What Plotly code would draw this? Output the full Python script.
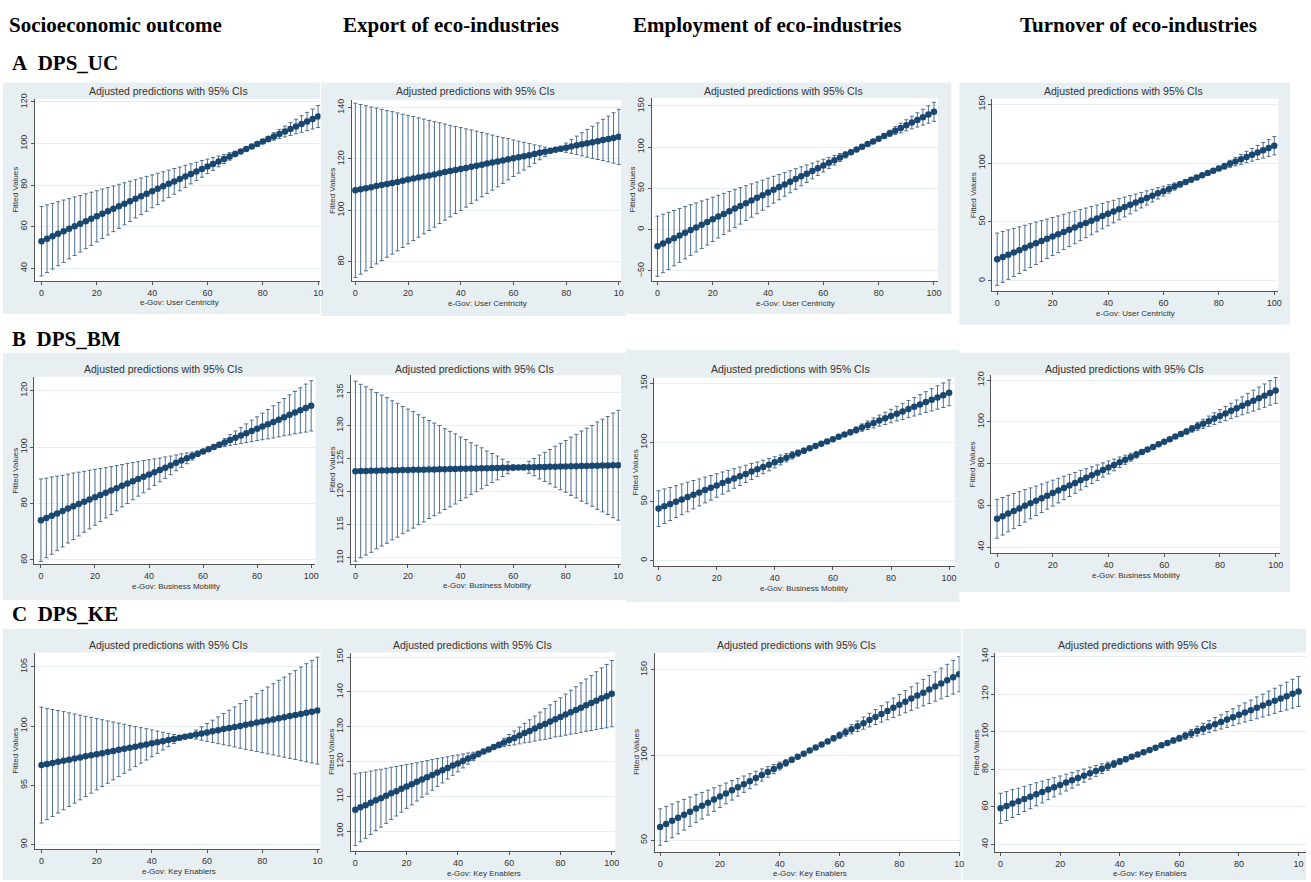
import plotly.graph_objects as go

W, H = 1311, 882

# ---------------- data ----------------
x_vals = list(range(0, 101, 2))
x_tick_vals = [0, 20, 40, 60, 80, 100]
x_tick_full = ["0", "20", "40", "60", "80", "100"]
x_tick_cut = ["0", "20", "40", "60", "80", "10"]

column_titles = ["Socioeconomic outcome", "Export of eco-industries",
                 "Employment of eco-industries", "Turnover of eco-industries"]
row_labels = ["A  DPS_UC", "B  DPS_BM", "C  DPS_KE"]
x_axis_titles = ["e-Gov: User Centricity", "e-Gov: Business Mobility", "e-Gov: Key Enablers"]
panel_title = "Adjusted predictions with 95% CIs"
y_axis_title = "Fitted Values"

pred_A1 = [53.0, 54.2, 55.4, 56.6, 57.8, 59.0, 60.2, 61.4, 62.6, 63.8, 65.0, 66.2, 67.4, 68.6, 69.8, 71.0, 72.2, 73.4, 74.6, 75.8, 77.0, 78.2, 79.4, 80.6, 81.8, 83.0, 84.2, 85.4, 86.6, 87.8, 89.0, 90.2, 91.4, 92.6, 93.8, 95.0, 96.2, 97.4, 98.6, 99.8, 101.0, 102.2, 103.4, 104.6, 105.8, 107.0, 108.2, 109.4, 110.6, 111.8, 113.0]
err_A1 = [16.7, 16.3, 15.8, 15.4, 15.0, 14.5, 14.1, 13.6, 13.2, 12.8, 12.3, 11.9, 11.4, 11.0, 10.6, 10.1, 9.7, 9.2, 8.8, 8.4, 7.9, 7.5, 7.0, 6.6, 6.2, 5.7, 5.3, 4.8, 4.4, 4.0, 3.5, 3.1, 2.6, 2.2, 1.8, 1.3, 0.9, 0.6, 0.6, 0.6, 0.9, 1.3, 1.8, 2.2, 2.6, 3.1, 3.5, 4.0, 4.4, 4.8, 5.3]

pred_A2 = [107.8, 108.2, 108.6, 109.0, 109.5, 109.9, 110.3, 110.7, 111.1, 111.5, 112.0, 112.4, 112.8, 113.2, 113.6, 114.0, 114.5, 114.9, 115.3, 115.7, 116.1, 116.5, 117.0, 117.4, 117.8, 118.2, 118.6, 119.0, 119.4, 119.9, 120.3, 120.7, 121.1, 121.5, 121.9, 122.4, 122.8, 123.2, 123.6, 124.0, 124.4, 124.9, 125.3, 125.7, 126.1, 126.5, 126.9, 127.4, 127.8, 128.2, 128.6]
err_A2 = [33.9, 33.0, 32.1, 31.2, 30.3, 29.4, 28.5, 27.7, 26.8, 25.9, 25.0, 24.1, 23.2, 22.3, 21.4, 20.5, 19.6, 18.7, 17.8, 16.9, 16.1, 15.2, 14.3, 13.4, 12.5, 11.6, 10.7, 9.8, 8.9, 8.0, 7.1, 6.2, 5.4, 4.5, 3.6, 2.7, 1.8, 0.9, 0.6, 0.9, 1.8, 2.7, 3.6, 4.5, 5.4, 6.2, 7.1, 8.0, 8.9, 9.8, 10.7]

pred_A3 = [-20.1, -16.8, -13.6, -10.3, -7.1, -3.8, -0.5, 2.7, 6.0, 9.2, 12.5, 15.8, 19.0, 22.3, 25.5, 28.8, 32.1, 35.3, 38.6, 41.8, 45.1, 48.4, 51.6, 54.9, 58.1, 61.4, 64.7, 67.9, 71.2, 74.4, 77.7, 81.0, 84.2, 87.5, 90.7, 94.0, 97.3, 100.5, 103.8, 107.0, 110.3, 113.6, 116.8, 120.1, 123.3, 126.6, 129.9, 133.1, 136.4, 139.6, 142.9]
err_A3 = [36.5, 35.5, 34.6, 33.6, 32.6, 31.7, 30.7, 29.8, 28.8, 27.8, 26.9, 25.9, 25.0, 24.0, 23.0, 22.1, 21.1, 20.2, 19.2, 18.2, 17.3, 16.3, 15.4, 14.4, 13.4, 12.5, 11.5, 10.6, 9.6, 8.6, 7.7, 6.7, 5.8, 4.8, 3.8, 2.9, 1.9, 1.0, 1.0, 1.0, 1.9, 2.9, 3.8, 4.8, 5.8, 6.7, 7.7, 8.6, 9.6, 10.6, 11.5]

pred_A4 = [18.3, 20.2, 22.2, 24.1, 26.0, 28.0, 29.9, 31.8, 33.7, 35.7, 37.6, 39.5, 41.5, 43.4, 45.3, 47.3, 49.2, 51.1, 53.0, 55.0, 56.9, 58.8, 60.8, 62.7, 64.6, 66.6, 68.5, 70.4, 72.3, 74.3, 76.2, 78.1, 80.1, 82.0, 83.9, 85.9, 87.8, 89.7, 91.6, 93.6, 95.5, 97.4, 99.4, 101.3, 103.2, 105.2, 107.1, 109.0, 110.9, 112.9, 114.8]
err_A4 = [22.2, 21.6, 21.0, 20.4, 19.8, 19.2, 18.6, 18.0, 17.4, 16.8, 16.2, 15.6, 15.0, 14.4, 13.8, 13.2, 12.6, 12.0, 11.4, 10.8, 10.2, 9.6, 9.0, 8.4, 7.8, 7.2, 6.6, 6.0, 5.4, 4.8, 4.2, 3.6, 3.0, 2.4, 1.8, 1.2, 0.6, 0.6, 0.6, 1.2, 1.8, 2.4, 3.0, 3.6, 4.2, 4.8, 5.4, 6.0, 6.6, 7.2, 7.8]

pred_B1 = [74.1, 74.9, 75.7, 76.5, 77.3, 78.2, 79.0, 79.8, 80.6, 81.4, 82.2, 83.0, 83.8, 84.6, 85.4, 86.3, 87.1, 87.9, 88.7, 89.5, 90.3, 91.1, 91.9, 92.7, 93.5, 94.4, 95.2, 96.0, 96.8, 97.6, 98.4, 99.2, 100.0, 100.8, 101.6, 102.5, 103.3, 104.1, 104.9, 105.7, 106.5, 107.3, 108.1, 108.9, 109.7, 110.6, 111.4, 112.2, 113.0, 113.8, 114.6]
err_B1 = [14.6, 14.1, 13.7, 13.2, 12.7, 12.2, 11.8, 11.3, 10.8, 10.4, 9.9, 9.4, 8.9, 8.5, 8.0, 7.5, 7.1, 6.6, 6.1, 5.7, 5.2, 4.7, 4.2, 3.8, 3.3, 2.8, 2.4, 1.9, 1.4, 0.9, 0.5, 0.5, 0.5, 0.9, 1.4, 1.9, 2.4, 2.8, 3.3, 3.8, 4.2, 4.7, 5.2, 5.7, 6.1, 6.6, 7.1, 7.5, 8.0, 8.5, 8.9]

pred_B2 = [123.10, 123.12, 123.14, 123.15, 123.17, 123.19, 123.21, 123.23, 123.24, 123.26, 123.28, 123.30, 123.32, 123.33, 123.35, 123.37, 123.39, 123.41, 123.42, 123.44, 123.46, 123.48, 123.50, 123.51, 123.53, 123.55, 123.57, 123.59, 123.60, 123.62, 123.64, 123.66, 123.68, 123.69, 123.71, 123.73, 123.75, 123.77, 123.78, 123.80, 123.82, 123.84, 123.86, 123.87, 123.89, 123.91, 123.93, 123.95, 123.96, 123.98, 124.00]
err_B2 = [13.6, 13.1, 12.7, 12.3, 11.8, 11.4, 11.0, 10.5, 10.1, 9.6, 9.2, 8.8, 8.3, 7.9, 7.4, 7.0, 6.6, 6.1, 5.7, 5.3, 4.8, 4.4, 3.9, 3.5, 3.1, 2.6, 2.2, 1.8, 1.3, 0.9, 0.4, 0.3, 0.4, 0.9, 1.3, 1.8, 2.2, 2.6, 3.1, 3.5, 3.9, 4.4, 4.8, 5.3, 5.7, 6.1, 6.6, 7.0, 7.4, 7.9, 8.3]

pred_B3 = [44.0, 46.0, 47.9, 49.9, 51.8, 53.8, 55.8, 57.7, 59.7, 61.6, 63.6, 65.6, 67.5, 69.5, 71.4, 73.4, 75.4, 77.3, 79.3, 81.2, 83.2, 85.2, 87.1, 89.1, 91.0, 93.0, 95.0, 96.9, 98.9, 100.8, 102.8, 104.8, 106.7, 108.7, 110.6, 112.6, 114.6, 116.5, 118.5, 120.4, 122.4, 124.4, 126.3, 128.3, 130.2, 132.2, 134.2, 136.1, 138.1, 140.0, 142.0]
err_B3 = [15.1, 14.6, 14.0, 13.5, 13.0, 12.5, 12.0, 11.4, 10.9, 10.4, 9.9, 9.4, 8.8, 8.3, 7.8, 7.3, 6.8, 6.2, 5.7, 5.2, 4.7, 4.2, 3.6, 3.1, 2.6, 2.1, 1.6, 1.0, 0.8, 0.8, 0.8, 1.0, 1.6, 2.1, 2.6, 3.1, 3.6, 4.2, 4.7, 5.2, 5.7, 6.2, 6.8, 7.3, 7.8, 8.3, 8.8, 9.4, 9.9, 10.4, 10.9]

pred_B4 = [53.6, 54.8, 56.1, 57.3, 58.5, 59.8, 61.0, 62.2, 63.4, 64.7, 65.9, 67.1, 68.4, 69.6, 70.8, 72.1, 73.3, 74.5, 75.7, 77.0, 78.2, 79.4, 80.7, 81.9, 83.1, 84.3, 85.6, 86.8, 88.0, 89.3, 90.5, 91.7, 93.0, 94.2, 95.4, 96.7, 97.9, 99.1, 100.3, 101.6, 102.8, 104.0, 105.3, 106.5, 107.7, 109.0, 110.2, 111.4, 112.6, 113.9, 115.1]
err_B4 = [9.3, 9.0, 8.7, 8.4, 8.1, 7.8, 7.4, 7.1, 6.8, 6.5, 6.2, 5.9, 5.6, 5.3, 5.0, 4.7, 4.3, 4.0, 3.7, 3.4, 3.1, 2.8, 2.5, 2.2, 1.9, 1.6, 1.2, 0.9, 0.6, 0.5, 0.5, 0.5, 0.6, 0.9, 1.2, 1.6, 1.9, 2.2, 2.5, 2.8, 3.1, 3.4, 3.7, 4.0, 4.3, 4.7, 5.0, 5.3, 5.6, 5.9, 6.2]

pred_C1 = [96.70, 96.79, 96.88, 96.98, 97.07, 97.16, 97.25, 97.34, 97.44, 97.53, 97.62, 97.71, 97.80, 97.90, 97.99, 98.08, 98.17, 98.26, 98.36, 98.45, 98.54, 98.63, 98.72, 98.82, 98.91, 99.00, 99.09, 99.18, 99.28, 99.37, 99.46, 99.55, 99.64, 99.74, 99.83, 99.92, 100.01, 100.10, 100.20, 100.29, 100.38, 100.47, 100.56, 100.66, 100.75, 100.84, 100.93, 101.02, 101.12, 101.21, 101.30]
err_C1 = [4.89, 4.70, 4.51, 4.32, 4.14, 3.95, 3.76, 3.57, 3.38, 3.20, 3.01, 2.82, 2.63, 2.44, 2.26, 2.07, 1.88, 1.69, 1.50, 1.32, 1.13, 0.94, 0.75, 0.56, 0.38, 0.19, 0.15, 0.19, 0.38, 0.56, 0.75, 0.94, 1.13, 1.32, 1.50, 1.69, 1.88, 2.07, 2.26, 2.44, 2.63, 2.82, 3.01, 3.20, 3.38, 3.57, 3.76, 3.95, 4.14, 4.32, 4.51]

pred_C2 = [106.2, 106.9, 107.5, 108.2, 108.9, 109.5, 110.2, 110.9, 111.5, 112.2, 112.9, 113.5, 114.2, 114.9, 115.5, 116.2, 116.9, 117.5, 118.2, 118.9, 119.5, 120.2, 120.9, 121.5, 122.2, 122.9, 123.5, 124.2, 124.8, 125.5, 126.2, 126.8, 127.5, 128.2, 128.8, 129.5, 130.2, 130.8, 131.5, 132.2, 132.8, 133.5, 134.2, 134.8, 135.5, 136.2, 136.8, 137.5, 138.2, 138.8, 139.5]
err_C2 = [10.3, 9.9, 9.5, 9.1, 8.7, 8.3, 7.9, 7.5, 7.1, 6.7, 6.3, 5.9, 5.5, 5.1, 4.8, 4.4, 4.0, 3.6, 3.2, 2.8, 2.4, 2.0, 1.6, 1.2, 0.8, 0.4, 0.3, 0.4, 0.8, 1.2, 1.6, 2.0, 2.4, 2.8, 3.2, 3.6, 4.0, 4.4, 4.8, 5.1, 5.5, 5.9, 6.3, 6.7, 7.1, 7.5, 7.9, 8.3, 8.7, 9.1, 9.5]

pred_C3 = [57.8, 59.6, 61.4, 63.2, 65.0, 66.8, 68.6, 70.3, 72.1, 73.9, 75.7, 77.5, 79.3, 81.1, 82.9, 84.7, 86.5, 88.3, 90.1, 91.8, 93.6, 95.4, 97.2, 99.0, 100.8, 102.6, 104.4, 106.2, 108.0, 109.8, 111.6, 113.4, 115.1, 116.9, 118.7, 120.5, 122.3, 124.1, 125.9, 127.7, 129.5, 131.3, 133.1, 134.9, 136.6, 138.4, 140.2, 142.0, 143.8, 145.6, 147.4]
err_C3 = [10.7, 10.3, 9.9, 9.4, 9.0, 8.6, 8.2, 7.8, 7.3, 6.9, 6.5, 6.1, 5.7, 5.2, 4.8, 4.4, 4.0, 3.6, 3.1, 2.7, 2.3, 1.9, 1.5, 1.0, 0.6, 0.5, 0.5, 0.6, 1.0, 1.5, 1.9, 2.3, 2.7, 3.1, 3.6, 4.0, 4.4, 4.8, 5.2, 5.7, 6.1, 6.5, 6.9, 7.3, 7.8, 8.2, 8.6, 9.0, 9.4, 9.9, 10.3]

pred_C4 = [59.2, 60.4, 61.7, 62.9, 64.2, 65.4, 66.7, 67.9, 69.2, 70.4, 71.6, 72.9, 74.1, 75.4, 76.6, 77.9, 79.1, 80.3, 81.6, 82.8, 84.1, 85.3, 86.6, 87.8, 89.1, 90.3, 91.5, 92.8, 94.0, 95.3, 96.5, 97.8, 99.0, 100.3, 101.5, 102.7, 104.0, 105.2, 106.5, 107.7, 109.0, 110.2, 111.4, 112.7, 113.9, 115.2, 116.4, 117.7, 118.9, 120.2, 121.4]
err_C4 = [8.0, 7.7, 7.4, 7.0, 6.7, 6.4, 6.1, 5.8, 5.4, 5.1, 4.8, 4.5, 4.2, 3.8, 3.5, 3.2, 2.9, 2.6, 2.2, 1.9, 1.6, 1.3, 1.0, 0.6, 0.5, 0.5, 0.5, 0.6, 1.0, 1.3, 1.6, 1.9, 2.2, 2.6, 2.9, 3.2, 3.5, 3.8, 4.2, 4.5, 4.8, 5.1, 5.4, 5.8, 6.1, 6.4, 6.7, 7.0, 7.4, 7.7, 8.0]

yticks_A1 = [40, 60, 80, 100, 120]
yticks_A2 = [80, 100, 120, 140]
yticks_A3 = [-50, 0, 50, 100, 150]
yticks_A4 = [0, 50, 100, 150]
yticks_B1 = [60, 80, 100, 120]
yticks_B2 = [110, 115, 120, 125, 130, 135]
yticks_B3 = [0, 50, 100, 150]
yticks_B4 = [40, 60, 80, 100, 120]
yticks_C1 = [90, 95, 100, 105]
yticks_C2 = [100, 110, 120, 130, 140, 150]
yticks_C3 = [50, 100, 150]
yticks_C4 = [40, 60, 80, 100, 120, 140]

panels = [
    dict(row=0, pred=pred_A1, err=err_A1, yt=yticks_A1, xt=x_tick_cut),
    dict(row=0, pred=pred_A2, err=err_A2, yt=yticks_A2, xt=x_tick_cut),
    dict(row=0, pred=pred_A3, err=err_A3, yt=yticks_A3, xt=x_tick_full),
    dict(row=0, pred=pred_A4, err=err_A4, yt=yticks_A4, xt=x_tick_full),
    dict(row=1, pred=pred_B1, err=err_B1, yt=yticks_B1, xt=x_tick_full),
    dict(row=1, pred=pred_B2, err=err_B2, yt=yticks_B2, xt=x_tick_cut),
    dict(row=1, pred=pred_B3, err=err_B3, yt=yticks_B3, xt=x_tick_full),
    dict(row=1, pred=pred_B4, err=err_B4, yt=yticks_B4, xt=x_tick_full),
    dict(row=2, pred=pred_C1, err=err_C1, yt=yticks_C1, xt=x_tick_cut),
    dict(row=2, pred=pred_C2, err=err_C2, yt=yticks_C2, xt=x_tick_full),
    dict(row=2, pred=pred_C3, err=err_C3, yt=yticks_C3, xt=x_tick_cut),
    dict(row=2, pred=pred_C4, err=err_C4, yt=yticks_C4, xt=x_tick_cut),
]
for p in panels:
    assert len(p["pred"]) == len(x_vals) and len(p["err"]) == len(x_vals)

# ---------------- layout geometry (pixels) ----------------
geom = [
    dict(plot=(35, 93.3, 321.7, 277), xr=(-2.4, 100.85), yr=(33.8, 121.6), bg=(3, 77, 321, 310), tx=169),
    dict(plot=(353.3, 95, 623.3, 277.3), xr=(-1.3, 100.8), yr=(72.4, 142.8), bg=(322, 77, 628, 312), tx=477),
    dict(plot=(654.3, 92.7, 941.7, 277.3), xr=(-2.05, 101.5), yr=(-62.8, 159.6), bg=(628, 77, 955, 310), tx=786),
    dict(plot=(996, 93.3, 1283.3, 287.3), xr=(-1.8, 101.5), yr=(-9, 154.8), bg=(963, 77, 1295, 321), tx=1128),
    dict(plot=(34.3, 373.3, 316.7, 562.3), xr=(-2.5, 101.6), yr=(58.4, 124.9), bg=(3, 349, 322, 598), tx=164.5),
    dict(plot=(352.3, 371.7, 623.3, 561.7), xr=(-1.7, 101.0), yr=(109.1, 137.6), bg=(322, 349, 628, 598), tx=476),
    dict(plot=(656.7, 374.3, 958.3, 564.3), xr=(-1.5, 101.9), yr=(-5, 154.8), bg=(628, 346, 963, 600), tx=794),
    dict(plot=(995, 371.7, 1285, 551), xr=(-2.1, 101.6), yr=(37.1, 122.4), bg=(962, 349, 1295, 590), tx=1129),
    dict(plot=(35, 651, 321.7, 849), xr=(-2.4, 101.1), yr=(89.6, 106.2), bg=(3, 627, 322, 880), tx=169),
    dict(plot=(352.3, 651, 617.7, 851), xr=(-1.7, 101.4), yr=(94.3, 151.3), bg=(322, 627, 628, 880), tx=474),
    dict(plot=(657.3, 651, 963.3, 851.7), xr=(-1.8, 100.15), yr=(43.2, 160.1), bg=(628, 627, 965, 880), tx=800),
    dict(plot=(999, 651, 1311, 851.7), xr=(-1.8, 102.5), yr=(36, 142.1), bg=(966, 627, 1311, 880), tx=1142),
]
title_y = [86, 365.7, 643.3]
header_x = [7, 342, 633, 1022]
header_y = 19
row_label_y = [57, 335, 612]
HEAD_SIZE = 21

BG = "#e8eff2"
NAVY = "#1a476f"
BAR = "#4f6f90"
AXIS = "#555555"
TXT = "#333333"
SANS = "Liberation Sans, Arial, sans-serif"
SERIF = "Liberation Serif, Times New Roman, serif"


def px(x):
    return x / W


def py(y):
    return 1 - y / H


fig = go.Figure()
shapes = []
annotations = []
layout_axes = {}

for i, (p, g) in enumerate(zip(panels, geom), start=1):
    l, t, r, b = g["plot"]
    bl, bt, br, bb = g["bg"]
    shapes.append(dict(type="rect", xref="paper", yref="paper", x0=px(bl), x1=px(br),
                       y0=py(bb), y1=py(bt), fillcolor=BG, line=dict(width=0), layer="below"))
    shapes.append(dict(type="rect", xref="paper", yref="paper", x0=px(l), x1=px(r),
                       y0=py(b), y1=py(t), fillcolor="white", line=dict(width=0), layer="below"))

    xa = "x" if i == 1 else f"x{i}"
    ya = "y" if i == 1 else f"y{i}"
    fig.add_trace(go.Scatter(
        x=x_vals, y=p["pred"], xaxis=xa, yaxis=ya, mode="markers",
        marker=dict(color=NAVY, size=6.5, line=dict(width=0)),
        error_y=dict(type="data", array=p["err"], symmetric=True, color=BAR,
                     thickness=1, width=2),
        showlegend=False, hoverinfo="x+y",
    ))
    xkey = "xaxis" if i == 1 else f"xaxis{i}"
    ykey = "yaxis" if i == 1 else f"yaxis{i}"
    layout_axes[xkey] = dict(
        domain=[px(l), px(r)], range=list(g["xr"]), anchor=ya,
        tickmode="array", tickvals=x_tick_vals, ticktext=p["xt"],
        ticks="outside", ticklen=3, tickcolor=AXIS, tickwidth=1,
        showline=True, linecolor=AXIS, linewidth=1, mirror=False,
        showgrid=False, zeroline=False,
        tickfont=dict(family=SANS, size=9, color=TXT),
    )
    layout_axes[ykey] = dict(
        domain=[py(b), py(t)], range=list(g["yr"]), anchor=xa,
        tickmode="array", tickvals=p["yt"], tickangle=-90,
        ticks="outside", ticklen=3, tickcolor=AXIS, tickwidth=1,
        showline=True, linecolor=AXIS, linewidth=1,
        showgrid=True, gridcolor="#e6eef0", gridwidth=1, zeroline=False,
        tickfont=dict(family=SANS, size=9, color=TXT),
    )
    annotations.append(dict(text=panel_title, xref="paper", yref="paper",
                            x=px(g["tx"]), y=py(title_y[p["row"]]),
                            xanchor="center", yanchor="middle", showarrow=False,
                            font=dict(family=SANS, size=10.5, color=TXT)))
    annotations.append(dict(text=y_axis_title, xref="paper", yref="paper",
                            x=px(l - 19), y=py((t + b) / 2), textangle=-90,
                            xanchor="center", yanchor="middle", showarrow=False,
                            font=dict(family=SANS, size=8, color=TXT)))
    annotations.append(dict(text=x_axis_titles[p["row"]], xref=xa, yref="paper",
                            x=50, y=py(b + 22),
                            xanchor="center", yanchor="middle", showarrow=False,
                            font=dict(family=SANS, size=8, color=TXT)))

for lx, txt in zip(header_x, column_titles):
    annotations.append(dict(text=f"<b>{txt}</b>", xref="paper", yref="paper",
                            x=px(lx), y=py(header_y), xanchor="left", yanchor="middle",
                            showarrow=False, font=dict(family=SERIF, size=HEAD_SIZE, color="black")))
for ry, txt in zip(row_label_y, row_labels):
    annotations.append(dict(text=f"<b>{txt.replace('  ', '&nbsp;&nbsp;')}</b>", xref="paper", yref="paper",
                            x=px(10), y=py(ry), xanchor="left", yanchor="middle",
                            showarrow=False, font=dict(family=SERIF, size=HEAD_SIZE, color="black")))

fig.update_layout(
    width=W, height=H, margin=dict(l=0, r=0, t=0, b=0),
    paper_bgcolor="white", plot_bgcolor="rgba(0,0,0,0)",
    shapes=shapes, annotations=annotations, showlegend=False,
    **layout_axes,
)

fig.write_html("out.html", config={"displayModeBar": False},
               post_script="document.body.style.margin='0px';")
